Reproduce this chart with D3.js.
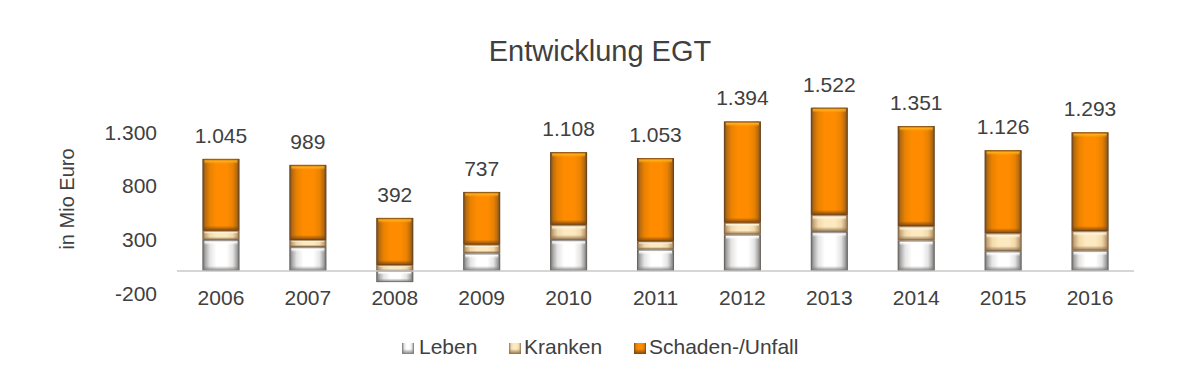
<!DOCTYPE html>
<html>
<head>
<meta charset="utf-8">
<script src="https://cdn.jsdelivr.net/npm/d3@7"></script>
<style>
  body { margin: 0; background: #fff; }
  text { font-family: "Liberation Sans", Arial, sans-serif; fill: #404040; }
</style>
</head>
<body>
<div id="chart"></div>
<script>
// Data (Mio Euro)
const years = ["2006", "2007", "2008", "2009", "2010", "2011", "2012", "2013", "2014", "2015", "2016"];
const leben = [290, 224, -103, 165, 290, 200, 340, 365, 285, 185, 190];
const kranken = [85, 65, 55, 80, 140, 75, 110, 158, 134, 168, 183];
const schaden = [670, 700, 440, 492, 678, 778, 944, 999, 932, 773, 920];
const seriesKeys = ["Leben", "Kranken", "Schaden-/Unfall"];
const tickValues = [-200, 300, 800, 1300];

let width = 1200, height = 388;

let rows = years.map((y, i) => ({year: y, "Leben": leben[i], "Kranken": kranken[i], "Schaden-/Unfall": schaden[i]}));

const de = d3.formatLocale({decimal: ",", thousands: ".", grouping: [3], currency: ["", " €"], minus: "-"});
const fmt = de.format(",d");

let svg = d3.select("#chart").append("svg")
    .attr("width", width)
    .attr("height", height);

// colour sets for the bevelled look
let palette = {
    "Leben": {edge: "#6a6a6a", edge2: "#a9a9a9", mid: "#e4e4e4", center: "#ffffff", hi: "#ffffff", lo: "#7c7c7c"},
    "Kranken": {edge: "#8a6c4a", edge2: "#c7a87e", mid: "#f1d9aa", center: "#fde9c0", hi: "#fff6e2", lo: "#8f6f4a"},
    "Schaden-/Unfall": {edge: "#6a4420", edge2: "#b86c10", mid: "#ea8200", center: "#ff8c00", hi: "#ffb21e", lo: "#7a4614"}
};

let defs = svg.append("defs");
seriesKeys.forEach((k, i) => {
    let c = palette[k];
    let g = defs.append("linearGradient").attr("id", "h" + i)
        .attr("x1", "0%").attr("x2", "100%").attr("y1", "0%").attr("y2", "0%");
    [[0, c.edge], [0.08, c.edge2], [0.2, c.mid], [0.38, c.center], [0.65, c.center], [0.82, c.mid], [0.92, c.edge2], [1, c.edge]]
        .forEach(s => g.append("stop").attr("offset", s[0]).attr("stop-color", s[1]));

    let t = defs.append("linearGradient").attr("id", "t" + i)
        .attr("x1", "0%").attr("x2", "0%").attr("y1", "0%").attr("y2", "100%");
    t.append("stop").attr("offset", 0).attr("stop-color", c.lo).attr("stop-opacity", 0.7);
    t.append("stop").attr("offset", 0.4).attr("stop-color", c.hi).attr("stop-opacity", 0.95);
    t.append("stop").attr("offset", 1).attr("stop-color", c.hi).attr("stop-opacity", 0);

    let b = defs.append("linearGradient").attr("id", "b" + i)
        .attr("x1", "0%").attr("x2", "0%").attr("y1", "0%").attr("y2", "100%");
    b.append("stop").attr("offset", 0).attr("stop-color", c.lo).attr("stop-opacity", 0);
    b.append("stop").attr("offset", 1).attr("stop-color", c.lo).attr("stop-opacity", 1);
});

// Scales
let x = d3.scaleBand()
    .domain(years)
    .range([177.5, 1133.5])
    .paddingInner(0.574)
    .paddingOuter(0.287);

let y = d3.scaleLinear()
    .domain([-200, 1300])
    .range([292.5, 131.5]);

let stack = d3.stack()
    .keys(seriesKeys)
    .offset(d3.stackOffsetDiverging);
let stacked = stack(rows);

// Title
svg.append("text")
    .attr("x", 600)
    .attr("y", 61)
    .attr("text-anchor", "middle")
    .style("font-size", "29px")
    .text("Entwicklung EGT");

// Y axis (labels only)
let yAxis = svg.append("g")
    .attr("transform", "translate(157,0)")
    .call(d3.axisLeft(y).tickValues(tickValues).tickSize(0).tickPadding(0).tickFormat(fmt));
yAxis.select(".domain").remove();
yAxis.selectAll("text")
    .style("font-size", "21px")
    .style("font-family", "'Liberation Sans', Arial, sans-serif")
    .attr("fill", "#404040")
    .attr("dy", "0.36em");

svg.append("text")
    .attr("transform", "translate(74,199) rotate(-90)")
    .attr("text-anchor", "middle")
    .style("font-size", "20px")
    .text("in Mio Euro");

// Bars
let layers = svg.append("g").selectAll("g.layer")
    .data(stacked)
    .enter().append("g")
    .attr("class", "layer");

let segs = layers.selectAll("g.seg")
    .data((d, i) => d.map(v => ({v: v, k: i, year: v.data.year})))
    .enter().append("g")
    .attr("class", "seg");

segs.each(function (d) {
    let g = d3.select(this);
    let y0 = y(Math.max(d.v[0], d.v[1]));
    let y1 = y(Math.min(d.v[0], d.v[1]));
    let h = y1 - y0;
    if (h <= 0) return;
    let bx = x(d.year), bw = x.bandwidth();
    let bev = Math.min(5, h / 3);
    g.append("rect")
        .attr("x", bx).attr("y", y0)
        .attr("width", bw).attr("height", h)
        .attr("fill", "url(#h" + d.k + ")");
    g.append("rect")
        .attr("x", bx + 2).attr("y", y0)
        .attr("width", bw - 4).attr("height", bev)
        .attr("fill", "url(#t" + d.k + ")");
    g.append("rect")
        .attr("x", bx + 1).attr("y", y1 - bev)
        .attr("width", bw - 2).attr("height", bev)
        .attr("fill", "url(#b" + d.k + ")");
    g.append("rect")
        .attr("x", bx + 0.5).attr("y", y0 + 0.5)
        .attr("width", bw - 1).attr("height", h - 1)
        .attr("fill", "none")
        .attr("stroke", "rgba(70,50,30,0.25)");
});

// zero line
svg.append("line")
    .attr("x1", 177).attr("x2", 1134)
    .attr("y1", y(0)).attr("y2", y(0))
    .attr("stroke", "#c8c8c8")
    .attr("stroke-width", 1.5);

// X axis labels
let xAxis = svg.append("g")
    .attr("transform", "translate(0," + y(0) + ")")
    .call(d3.axisBottom(x).tickSize(0).tickPadding(0));
xAxis.select(".domain").remove();
xAxis.selectAll("text")
    .style("font-size", "21px")
    .style("font-family", "'Liberation Sans', Arial, sans-serif")
    .attr("fill", "#404040")
    .attr("y", 34)
    .attr("dy", null);

// Totals
svg.append("g").selectAll("text")
    .data(rows)
    .enter().append("text")
    .attr("x", d => x(d.year) + x.bandwidth() / 2)
    .attr("y", d => {
        let pos = seriesKeys.reduce((s, k) => s + Math.max(0, d[k]), 0);
        return y(pos) - 16;
    })
    .attr("text-anchor", "middle")
    .style("font-size", "21px")
    .text(d => fmt(seriesKeys.reduce((s, k) => s + d[k], 0)));

// Legend
let legendPos = [402, 509, 634];
let legend = svg.append("g").selectAll("g")
    .data(seriesKeys)
    .enter().append("g")
    .attr("transform", (d, i) => "translate(" + legendPos[i] + ",343)");
legend.append("rect")
    .attr("width", 12).attr("height", 11)
    .attr("fill", (d, i) => "url(#h" + i + ")");
legend.append("rect")
    .attr("y", 6).attr("width", 12).attr("height", 5)
    .attr("fill", (d, i) => "url(#b" + i + ")");
legend.append("text")
    .attr("x", (d, i) => i === 0 ? 17 : 15)
    .attr("y", 11)
    .style("font-size", "21px")
    .text(d => d);
</script>
</body>
</html>
